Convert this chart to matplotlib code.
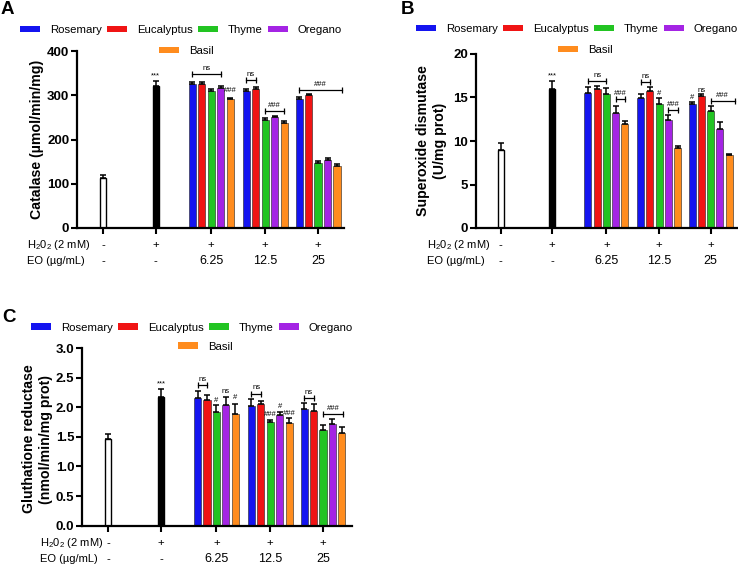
import matplotlib
matplotlib.use('Agg')
import matplotlib.pyplot as plt
from matplotlib.patches import Patch

plt.rcParams['font.family'] = ['Liberation Sans', 'DejaVu Sans']
plt.rcParams['mathtext.fontset'] = 'custom'
plt.rcParams['mathtext.rm'] = 'Liberation Sans'
plt.rcParams['mathtext.default'] = 'regular'

# ---------------- data ----------------
oils = ['Rosemary', 'Eucalyptus', 'Thyme', 'Oregano', 'Basil']
oil_colors = ['#1414F0', '#F01414', '#22C422', '#A424E4', '#FF8C1E']
h2o2_row = ['-', '+', '+', '+', '+']
eo_row = ['-', '-', '6.25', '12.5', '25']

# Catalase (rows = oils, columns = 6.25, 12.5, 25 ug/mL)
cat_ctrl, cat_ctrl_err = 114, 5
cat_h2o2, cat_h2o2_err = 322, 10
cat_mean = [[325, 310, 292],
            [326, 315, 300],
            [310, 245, 148],
            [317, 251, 154],
            [291, 238, 141]]
cat_err = [[6, 5, 3],
           [3, 3, 2],
           [5, 4, 3],
           [4, 2, 4],
           [2, 3, 4]]

# Superoxide dismutase
sod_ctrl, sod_ctrl_err = 9.0, 0.8
sod_h2o2, sod_h2o2_err = 16.0, 0.9
sod_mean = [[15.5, 14.9, 14.2],
            [16.0, 15.7, 15.2],
            [15.4, 14.2, 13.5],
            [13.2, 12.45, 11.4],
            [12.0, 9.2, 8.4]]
sod_err = [[0.7, 0.5, 0.25],
           [0.35, 0.45, 0.15],
           [0.7, 0.7, 0.5],
           [0.8, 0.5, 0.8],
           [0.3, 0.25, 0.08]]

# Glutathione reductase
gr_ctrl, gr_ctrl_err = 1.47, 0.08
gr_h2o2, gr_h2o2_err = 2.17, 0.14
gr_mean = [[2.15, 2.02, 1.97],
           [2.13, 2.05, 1.94],
           [1.92, 1.75, 1.62],
           [2.03, 1.87, 1.71],
           [1.88, 1.74, 1.56]]
gr_err = [[0.13, 0.12, 0.10],
          [0.07, 0.06, 0.11],
          [0.11, 0.04, 0.08],
          [0.14, 0.05, 0.09],
          [0.17, 0.07, 0.11]]

# significance marks: ('bar'|'text', dose index, first oil, last oil, y, label)
cat_marks = [('bar', 0, 0, 3, 347, 'ns'), ('text', 0, 4, 4, 302, '###'),
             ('bar', 1, 0, 1, 334, 'ns'), ('bar', 1, 2, 4, 265, '###'),
             ('bar', 2, 0, 4.5, 312, '###')]
cat_star = 335
sod_marks = [('bar', 0, 0, 2, 16.9, 'ns'), ('bar', 0, 3, 4, 14.8, '###'),
             ('bar', 1, 0, 1, 16.8, 'ns'), ('text', 1, 2, 2, 15.05, '#'),
             ('bar', 1, 3, 4, 13.6, '###'),
             ('text', 2, 0, 0, 14.6, '#'), ('text', 2, 1, 1, 15.45, 'ns'),
             ('bar', 2, 2, 4.6, 14.6, '###')]
sod_star = 17.05
gr_marks = [('bar', 0, 0, 1, 2.38, 'ns'), ('text', 0, 2, 2, 2.06, '#'),
            ('text', 0, 3, 3, 2.2, 'ns'), ('text', 0, 4, 4, 2.1, '#'),
            ('bar', 1, 0, 1, 2.23, 'ns'), ('text', 1, 2, 2, 1.81, '###'),
            ('text', 1, 3, 3, 1.95, '#'), ('text', 1, 4, 4, 1.83, '###'),
            ('bar', 2, 0, 1, 2.15, 'ns'), ('bar', 2, 2, 4.1, 1.88, '###')]
gr_star = 2.33

# ---------------- layout ----------------
W, H = 738, 564
fig = plt.figure(figsize=(W / 100, H / 100), dpi=100)

x_pos = [0, 1, 2.05, 3.07, 4.07]
step = 0.179
bw = 0.136
single_w = 0.11


def fpx(x, y):
    return (x / W, 1 - y / H)


def draw_panel(ax, ctrl, ctrl_err, h2o2, h2o2_err, mean, err, marks, star,
               ylim, yticks, fmt, xlim, row_dx):
    ax.set_xlim(*xlim)
    ax.set_ylim(*ylim)
    ekw = dict(fmt='none', ecolor='black', elinewidth=1.1, capsize=2.2,
               capthick=1.1, zorder=3)
    ax.bar(x_pos[0], ctrl, width=single_w, color='white', edgecolor='black',
           linewidth=1.0, zorder=2)
    ax.errorbar(x_pos[0], ctrl, yerr=[[0], [ctrl_err]], **ekw)
    ax.bar(x_pos[1], h2o2, width=single_w, color='black', edgecolor='black',
           linewidth=1.0, zorder=2)
    ax.errorbar(x_pos[1], h2o2, yerr=[[0], [h2o2_err]], **ekw)
    ax.text(x_pos[1], star, '***', ha='center', va='bottom', fontsize=5.5)
    for i, oil in enumerate(oils):
        xs = [x_pos[2 + d] + (i - 2) * step for d in range(3)]
        ax.bar(xs, mean[i], width=bw, color=oil_colors[i], edgecolor='#202020',
               linewidth=0.4, zorder=2)
        ax.errorbar(xs, mean[i], yerr=[[0] * 3, err[i]], **ekw)
    yr = ylim[1] - ylim[0]
    for kind, d, a, b, y, lab in marks:
        xa = x_pos[2 + d] + (a - 2) * step
        xb = x_pos[2 + d] + (b - 2) * step
        if kind == 'bar':
            ax.plot([xa, xb], [y, y], color='black', lw=0.9, clip_on=False,
                    zorder=4)
            ax.plot([xa, xb], [y, y], ls='none', marker='|', ms=4.5, mew=0.9,
                    color='black', clip_on=False, zorder=4)
            ax.text((xa + xb) / 2, y + yr * 0.012, lab, ha='center',
                    va='bottom', fontsize=5.5, clip_on=False)
        else:
            ax.text(xa, y, lab, ha='center', va='bottom', fontsize=5.5)
    for s in ['top', 'right']:
        ax.spines[s].set_visible(False)
    for s in ['left', 'bottom']:
        ax.spines[s].set_linewidth(1.6)
    ax.set_yticks(yticks)
    ax.set_yticklabels([fmt.format(v) for v in yticks], fontweight='bold',
                       fontsize=9.5)
    ax.set_xticks(x_pos)
    ax.set_xticklabels([])
    ax.tick_params(axis='both', width=1.5, length=4, direction='out', pad=1.5)
    for j, x in enumerate(x_pos):
        ax.annotate(h2o2_row[j], xy=(x, 0), xycoords=('data', 'axes fraction'),
                    xytext=(0, -12.3), textcoords='offset points',
                    ha='center', va='center', fontsize=8.2)
        ax.annotate(eo_row[j], xy=(x, 0), xycoords=('data', 'axes fraction'),
                    xytext=(0, -23.8), textcoords='offset points',
                    ha='center', va='center',
                    fontsize=9 if j >= 2 else 8.2)
    ax.annotate('H$_2$0$_2$ (2 mM)', xy=(0, 0), xycoords='axes fraction',
                xytext=(-row_dx * 0.72, -12.3), textcoords='offset points',
                ha='left', va='center', fontsize=8)
    ax.annotate('EO (\u00b5g/mL)', xy=(0, 0), xycoords='axes fraction',
                xytext=(-row_dx * 0.72, -23.8), textcoords='offset points',
                ha='left', va='center', fontsize=8)


def add_legend(c1, c2):
    h = [Patch(facecolor=c, edgecolor='none') for c in oil_colors]
    kw = dict(loc='center', frameon=False, fontsize=8.2, handlelength=1.75,
              handleheight=0.5, handletextpad=0.88, columnspacing=0.45,
              borderpad=0, borderaxespad=0)
    fig.legend(h[:4], oils[:4], ncol=4, bbox_to_anchor=fpx(*c1), **kw)
    fig.legend(h[4:], oils[4:], ncol=1, bbox_to_anchor=fpx(*c2), **kw)


# Panel A
axA = fig.add_axes([77 / W, 1 - 228 / H, 267 / W, 177 / H])
draw_panel(axA, cat_ctrl, cat_ctrl_err, cat_h2o2, cat_h2o2_err, cat_mean,
           cat_err, cat_marks, cat_star, (0, 400), [0, 100, 200, 300, 400],
           '{:.0f}', (-0.49, 4.56), 50)
fig.text(*fpx(37, 139.5), 'Catalase (\u00b5mol/min/mg)', rotation=90,
         ha='center', va='center', fontsize=10.2, fontweight='bold')
add_legend((181, 30), (186.5, 51))
fig.text(*fpx(1, 1), 'A', ha='left', va='top', fontsize=13.5,
         fontweight='bold')

# Panel B
axB = fig.add_axes([476 / W, 1 - 228 / H, 262 / W, 174 / H])
draw_panel(axB, sod_ctrl, sod_ctrl_err, sod_h2o2, sod_h2o2_err, sod_mean,
           sod_err, sod_marks, sod_star, (0, 20), [0, 5, 10, 15, 20],
           '{:.0f}', (-0.479, 4.6), 49.3)
fig.text(*fpx(431.5, 141), 'Superoxide dismutase\n(U/mg prot)', rotation=90,
         ha='center', va='center', fontsize=10.2, fontweight='bold',
         linespacing=1.2)
add_legend((577, 29), (585, 50))
fig.text(*fpx(401, 1), 'B', ha='left', va='top', fontsize=13.5,
         fontweight='bold')

# Panel C
axC = fig.add_axes([82 / W, 1 - 525.7 / H, 270 / W, 177.7 / H])
draw_panel(axC, gr_ctrl, gr_ctrl_err, gr_h2o2, gr_h2o2_err, gr_mean, gr_err,
           gr_marks, gr_star, (0, 3.0), [0, 0.5, 1.0, 1.5, 2.0, 2.5, 3.0],
           '{:.1f}', (-0.5, 4.62), 42.5)
fig.text(*fpx(37.5, 439), 'Gluthatione reductase\n(nmol/min/mg prot)',
         rotation=90, ha='center', va='center', fontsize=10.2,
         fontweight='bold', linespacing=1.2)
add_legend((192, 327.7), (205, 346.7))
fig.text(*fpx(2, 309), 'C', ha='left', va='top', fontsize=13.5,
         fontweight='bold')

fig.savefig('out.png', dpi=100)
